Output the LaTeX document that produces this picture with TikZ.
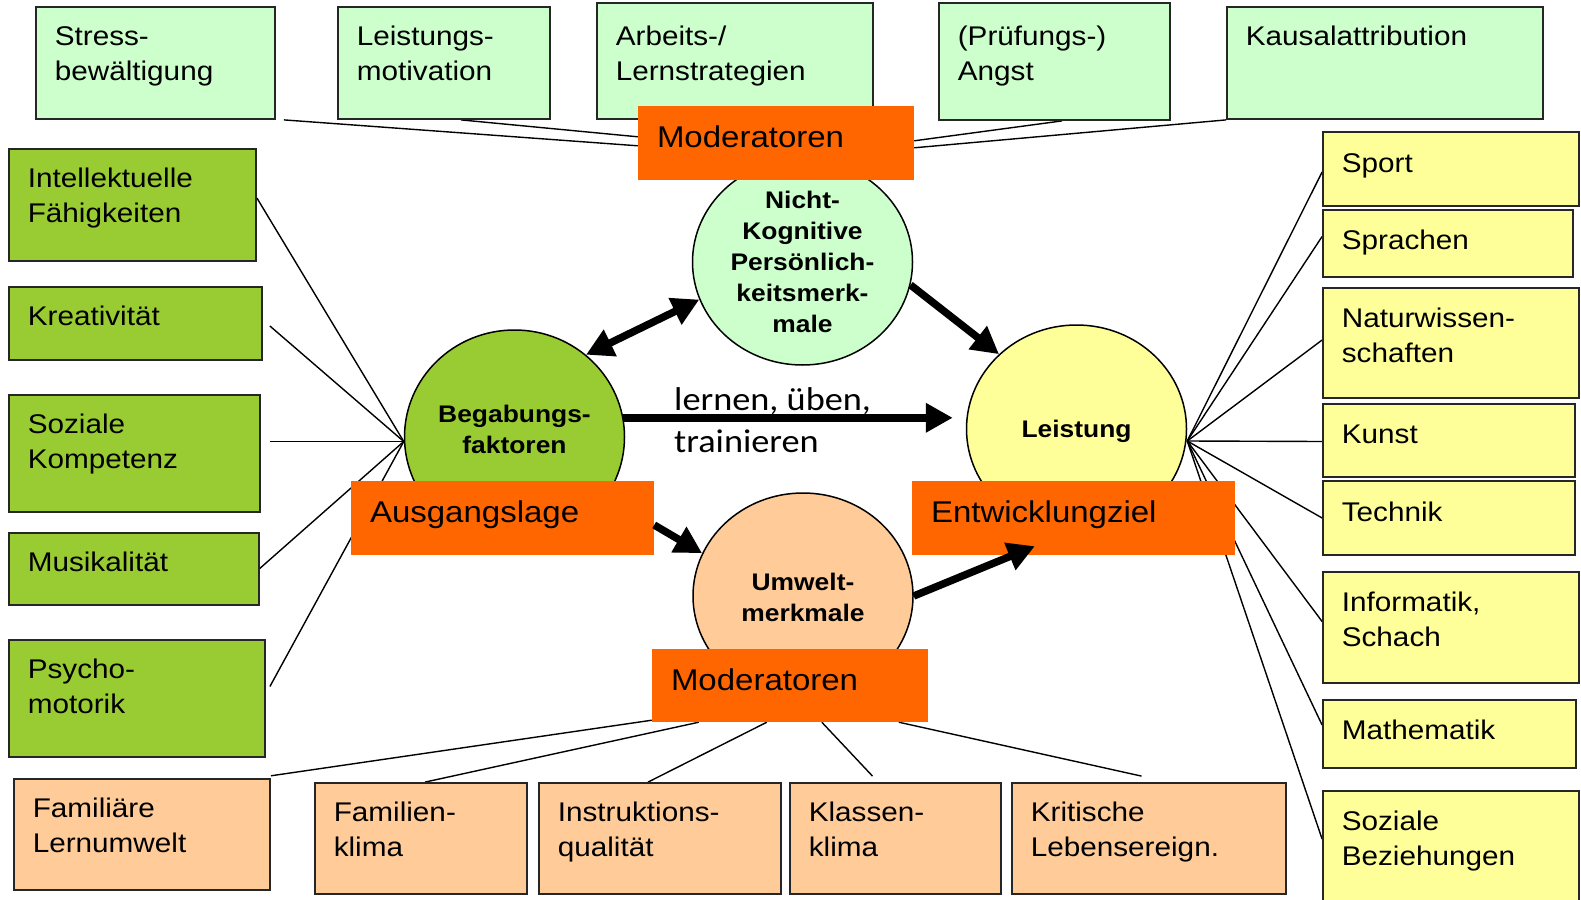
\documentclass[tikz,border=0pt]{standalone}
\usepackage{fontspec}
\setmainfont{Liberation Sans}[FakeStretch=1.1]
\newfontfamily\carl{Carlito}[FakeStretch=1.1]
\usetikzlibrary{arrows.meta,shapes.geometric,calc}
\definecolor{lgreen}{HTML}{CCFFCC}
\definecolor{dgreen}{HTML}{99CC33}
\definecolor{lyellow}{HTML}{FFFF99}
\definecolor{peach}{HTML}{FFCC99}
\definecolor{orng}{HTML}{FF6600}
\pgfdeclarelayer{bg}
\pgfsetlayers{bg,main}
\tikzset{
 box/.style={draw=black!85, line width=1.8pt, inner sep=0pt, rectangle},
 lg/.style={box, fill=lgreen},
 dg/.style={box, fill=dgreen},
 yl/.style={box, fill=lyellow},
 pc/.style={box, fill=peach},
 og/.style={rectangle, fill=orng, inner sep=0pt},
 btxt/.style={anchor=north west, inner sep=0pt, align=left, font=\fontsize{27}{35}\selectfont},
 otxt/.style={anchor=north west, inner sep=0pt, align=left, font=\fontsize{30}{35}\selectfont},
 ell/.style={ellipse, draw=black, line width=1.5pt, inner sep=0pt},
 etxt/.style={inner sep=0pt, align=center, font=\bfseries\fontsize{24}{31}\selectfont},
 conn/.style={line width=1.4pt},
 arr/.style={line width=7.5pt, -{Triangle[length=27pt,width=28pt]}},
 darr/.style={line width=7.5pt, {Triangle[length=27pt,width=28pt]}-{Triangle[length=27pt,width=28pt]}},
}
\newcommand\mkbox[8][-20pt]{%
 \node[#3, minimum width={#6-#4}, minimum height={#7-#5}] (#2) at ({(#4+#6)/2},{(#5+#7)/2}) {};
 \node[btxt] (#2-t) at ([xshift=19.5pt,yshift=#1]#2.north west) {#8};}
\newcommand\mkor[6]{%
 \node[og, minimum width={#4-#2}, minimum height={#5-#3}] (#1) at ({(#2+#4)/2},{(#3+#5)/2}) {};
 \node[otxt] (#1-t) at ([xshift=19pt,yshift=-19.5pt]#1.north west) {#6};}
\begin{document}
\begin{tikzpicture}[x=1pt,y=-1pt]
\useasboundingbox (0,0) rectangle (1581,899);
\begin{pgfonlayer}{bg}
\fill[white] (0,0) rectangle (1581,899);
\end{pgfonlayer}
% top boxes
\mkbox{stress}{lg}{36}{7}{275}{119}{Stress-\\bewältigung}
\mkbox{leistm}{lg}{338}{7}{550}{119}{Leistungs-\\motivation}
\mkbox[-24pt]{arbeit}{lg}{597}{3}{873}{119}{Arbeits-/\\Lernstrategien}
\mkbox[-24pt]{pruef}{lg}{939}{3}{1170}{120}{(Prüfungs-)\\Angst}
\mkbox{kausal}{lg}{1227}{7}{1543}{119}{Kausalattribution}
% left boxes
\mkbox{intell}{dg}{9}{149}{256}{261}{Intellektuelle\\Fähigkeiten}
\mkbox{kreat}{dg}{9}{287}{262}{360}{Kreativität}
\mkbox{sozk}{dg}{9}{395}{260}{512}{Soziale\\Kompetenz}
\mkbox{musik}{dg}{9}{533}{259}{605}{Musikalität}
\mkbox{psycho}{dg}{9}{640}{265}{757}{Psycho-\\motorik}
% right boxes
\mkbox[-22pt]{sport}{yl}{1323}{132}{1579}{206}{Sport}
\mkbox[-21pt]{sprach}{yl}{1323}{210}{1573}{277}{Sprachen}
\mkbox[-21pt]{natur}{yl}{1323}{288}{1579}{398}{Naturwissen-\\schaften}
\mkbox[-22pt]{kunst}{yl}{1323}{404}{1575}{477}{Kunst}
\mkbox[-22pt]{technik}{yl}{1323}{481}{1575}{555}{Technik}
\mkbox[-21pt]{inform}{yl}{1323}{572}{1579}{683}{Informatik,\\Schach}
\mkbox[-21pt]{mathe}{yl}{1323}{700}{1576}{768}{Mathematik}
\mkbox[-21pt]{sozb}{yl}{1323}{791}{1579}{910}{Soziale\\Beziehungen}
% bottom boxes
\mkbox{famlern}{pc}{14}{779}{270}{890}{Familiäre\\Lernumwelt}
\mkbox{famkl}{pc}{315}{783}{527}{894}{Familien-\\klima}
\mkbox{instr}{pc}{539}{783}{781}{894}{Instruktions-\\qualität}
\mkbox{klass}{pc}{790}{783}{1001}{894}{Klassen-\\klima}
\mkbox{krit}{pc}{1012}{783}{1286}{894}{Kritische\\Lebensereign.}
% ellipses
\node[ell, fill=lgreen, minimum width=220pt, minimum height=206pt] (nicht) at (802.5,262) {};
\node[etxt] (nicht-t) at (802.5,262) {Nicht-\\Kognitive\\Persönlich-\\keitsmerk-\\male};
\node[ell, fill=dgreen, minimum width=220pt, minimum height=214pt] (begab) at (514.5,437) {};
\node[etxt] (begab-t) at (514.5,429) {Begabungs-\\faktoren};
\node[ell, fill=lyellow, minimum width=220pt, minimum height=208pt] (leist) at (1076.5,429) {};
\node[etxt] (leist-t) at (1076.5,431) {Leistung};
\node[ell, fill=peach, minimum width=220pt, minimum height=206pt] (umwelt) at (803,596) {};
\node[etxt] (umwelt-t) at (803,597) {Umwelt-\\merkmale};
% orange labels
\mkor{modtop}{638}{106}{914}{180}{Moderatoren}
\mkor{ausg}{351}{481}{654}{555}{Ausgangslage}
\mkor{entw}{912}{481}{1235}{555}{Entwicklungziel}
\mkor{modbot}{652}{649}{928}{722}{Moderatoren}
% convergence points
\coordinate (bconv) at ([yshift=-4.5pt]begab.west);
\coordinate (lconv) at ([yshift=-12pt]leist.east);
\begin{pgfonlayer}{bg}
% top connectors
\draw[conn] ([xshift=8pt]stress.south east) -- ([yshift=-40pt]modtop.north west);
\draw[conn] ([xshift=17pt]leistm.south) -- ([yshift=-31pt]modtop.north west);
\draw[conn] ([xshift=7.5pt]pruef.south) -- ([yshift=-35pt]modtop.north east);
\draw[conn] (kausal.south west) -- ([yshift=-42pt]modtop.north east);
% left connectors
\draw[conn] ([yshift=7pt]intell.east) -- (bconv);
\draw[conn] ([xshift=7pt,yshift=-2.5pt]kreat.east) -- (bconv);
\draw[conn] ([xshift=9pt,yshift=12pt]sozk.east) -- (bconv);
\draw[conn] ([xshift=-3pt,yshift=-2pt]musik.east) -- (bconv);
\draw[conn] ([xshift=4pt,yshift=12pt]psycho.east) -- (bconv);
% right connectors
\draw[conn] (lconv) -- ([yshift=-3pt]sport.west);
\draw[conn] (lconv) -- ([yshift=7pt]sprach.west);
\draw[conn] (lconv) -- ([yshift=3pt]natur.west);
\draw[conn] (lconv) -- ([yshift=-1pt]kunst.west);
\draw[conn] (lconv) -- (technik.west);
\draw[conn] (lconv) -- ([yshift=6pt]inform.west);
\draw[conn] (lconv) -- ([yshift=9pt]mathe.west);
\draw[conn] (lconv) -- ([yshift=-49pt]sozb.north west);
% bottom connectors
\draw[conn] ([yshift=2.3pt]famlern.north east) -- ([yshift=2pt]modbot.south west);
\draw[conn] ([xshift=4pt]famkl.north) -- ([xshift=47pt]modbot.south west);
\draw[conn] ([xshift=-12pt]instr.north) -- ([xshift=115pt]modbot.south west);
\draw[conn] ([xshift=-23pt,yshift=6pt]klass.north) -- ([xshift=170pt]modbot.south west);
\draw[conn] ([xshift=-7.5pt,yshift=6pt]krit.north) -- ([xshift=247pt]modbot.south west);
\end{pgfonlayer}
% thick arrows
\draw[darr] (begab.49) -- (nicht.200);
\draw[arr] (nicht.-12) -- (leist.136);
\draw[arr] (begab.10) -- ([xshift=-13pt]leist.west |- begab.10);
\draw[arr] ([yshift=-7pt]ausg.east) -- (umwelt.157);
\draw[arr] (umwelt.east) -- ([xshift=123pt,yshift=9pt]entw.south west);
\node[anchor=north west, inner sep=0pt, align=left, font=\carl\fontsize{33}{42}\selectfont] (lern) at (674,387) {lernen, üben,\\trainieren};
\end{tikzpicture}
\end{document}
